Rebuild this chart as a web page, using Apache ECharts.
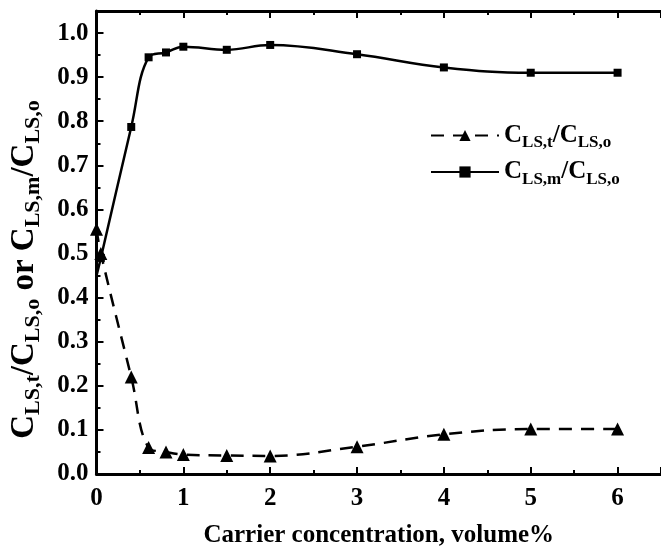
<!DOCTYPE html>
<html>
<head>
<meta charset="utf-8">
<script src="https://cdn.jsdelivr.net/npm/echarts@6/dist/echarts.min.js"></script>
<style>
  html, body { margin: 0; padding: 0; background: #fff; }
  #chart { width: 661px; height: 553px; }
</style>
</head>
<body>
<div id="chart"></div>
<script>
// Carrier concentration (volume%) and the two concentration ratios
const carrierT = [0, 0.05, 0.4, 0.6, 0.8, 1, 1.5, 2, 3, 4, 5, 6];
const ratioT   = [0.555, 0.5, 0.22, 0.06, 0.05, 0.044, 0.042, 0.041, 0.062, 0.09, 0.102, 0.102];
const carrierM = [0, 0.05, 0.4, 0.6, 0.8, 1, 1.5, 2, 3, 4, 5, 6];
const ratioM   = [0.45, 0.49, 0.787, 0.945, 0.956, 0.969, 0.962, 0.973, 0.952, 0.922, 0.91, 0.91];

// Axis tick labels
const xTicks = [0, 1, 2, 3, 4, 5, 6];
const yTicks = [0.0, 0.1, 0.2, 0.3, 0.4, 0.5, 0.6, 0.7, 0.8, 0.9, 1.0];

const FONT = "'Liberation Serif', 'Times New Roman', serif";

// The first point of the solid curve only anchors the line at the axis
const pairT = carrierT.map((x, i) => [x, ratioT[i]]);
const pairM = carrierM.map((x, i) => (i === 0
  ? { value: [x, ratioM[i]], symbol: 'none' }
  : [x, ratioM[i]]));

const txt = (size, lh, extra) => Object.assign(
  { fontFamily: FONT, fontWeight: 'bold', fontSize: size, lineHeight: lh, color: '#000' }, extra || {});

const legendText = {
  'CLS,t/CLS,o': '{b|C}{s|LS,t}{b|/C}{s|LS,o}',
  'CLS,m/CLS,o': '{b|C}{s|LS,m}{b|/C}{s|LS,o}'
};

const axisCommon = {
  type: 'value',
  axisLine: { show: true, onZero: false, lineStyle: { color: '#000', width: 3 } },
  axisTick: { show: true, inside: true, length: 7, lineStyle: { color: '#000', width: 2 } },
  minorTick: { show: true, splitNumber: 2, length: 4, lineStyle: { color: '#000', width: 2 } },
  splitLine: { show: false },
  minorSplitLine: { show: false }
};

const chart = echarts.init(document.getElementById('chart'), null, { renderer: 'canvas' });
chart.setOption({
  animation: false,
  backgroundColor: '#fff',
  grid: { left: 96, top: 11, width: 574, height: 465, containLabel: false },
  legend: {
    left: 425, top: 118,
    orient: 'vertical',
    itemWidth: 68, itemHeight: 14, itemGap: 8,
    formatter: name => legendText[name],
    textStyle: {
      rich: {
        b: txt(25, 32),
        s: txt(17, 17, { verticalAlign: 'bottom' })
      }
    },
    data: ['CLS,t/CLS,o', 'CLS,m/CLS,o']
  },
  xAxis: [
    Object.assign({}, axisCommon, {
      position: 'bottom',
      min: 0, max: 6.5, interval: 1,
      axisLabel: {
        customValues: xTicks,
        margin: 12,
        fontFamily: FONT, fontWeight: 'bold', fontSize: 25, color: '#000',
        formatter: v => String(v)
      },
      name: 'Carrier concentration, volume%',
      nameLocation: 'middle',
      nameGap: 49,
      nameTextStyle: { fontFamily: FONT, fontWeight: 'bold', fontSize: 25, color: '#000' }
    }),
    Object.assign({}, axisCommon, {
      position: 'top',
      min: 0, max: 6.5, interval: 1,
      axisLabel: { show: false }
    })
  ],
  yAxis: Object.assign({}, axisCommon, {
    min: 0, max: 1.05, interval: 0.1,
    axisLabel: {
      customValues: yTicks,
      margin: 8,
      fontFamily: FONT, fontWeight: 'bold', fontSize: 25, color: '#000',
      formatter: v => v.toFixed(1)
    },
    name: '{b|C}{s|LS,t}{b|/C}{s|LS,o}{b| or C}{s|LS,m}{b|/C}{s|LS,o}',
    nameLocation: 'middle',
    nameRotate: 90,
    nameGap: 52,
    nameTextStyle: {
      padding: [0, 54, 0, 0],
      rich: {
        b: txt(33, 40),
        s: txt(22, 22, { verticalAlign: 'bottom' })
      }
    }
  }),
  series: [
    {
      name: 'CLS,t/CLS,o',
      type: 'line',
      data: pairT,
      smooth: 0.4,
      symbol: 'triangle',
      symbolSize: 13,
      itemStyle: { color: '#000' },
      lineStyle: { color: '#000', width: 2.5, type: [13, 9] },
      clip: false
    },
    {
      name: 'CLS,m/CLS,o',
      type: 'line',
      data: pairM,
      smooth: 0.4,
      symbol: 'rect',
      symbolSize: 8,
      itemStyle: { color: '#000' },
      lineStyle: { color: '#000', width: 2.5 },
      clip: false
    }
  ]
});
</script>
</body>
</html>
